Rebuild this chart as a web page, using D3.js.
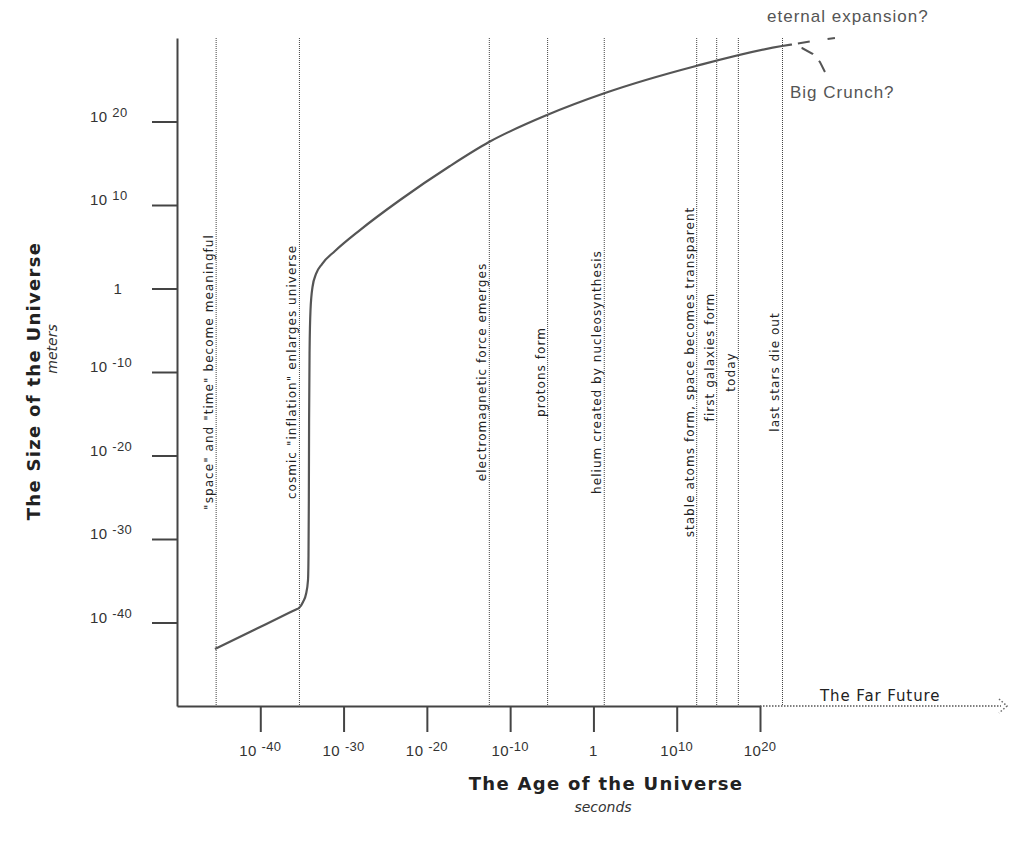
<!DOCTYPE html>
<html><head><meta charset="utf-8">
<script src="https://cdn.jsdelivr.net/npm/d3@7/dist/d3.min.js"></script>
<style>body{margin:0;background:#fff} svg{display:block}</style>
</head><body><svg id="c" width="1010" height="843"></svg>
<script>
// ---- data (powers of ten) ----
const xTickExps = [-40, -30, -20, -10, 0, 10, 20];
const xTickBase = ['10 ', '10 ', '10 ', '10', '1', '10', '10'];
const xTickSup  = ['-40', '-30', '-20', '-10', '', '10', '20'];
const yTickExps = [-40, -30, -20, -10, 0, 10, 20];
const yTickBase = ['10 ', '10 ', '10 ', '10 ', '1', '10 ', '10 '];
const yTickSup  = ['-40', '-30', '-20', '-10', '', '10', '20'];
const eventNames = [
  '"space" and "time" become meaningful',
  'cosmic "inflation" enlarges universe',
  'electromagnetic force emerges',
  'protons form',
  'helium created by nucleosynthesis',
  'stable atoms form, space becomes transparent',
  'first galaxies form',
  'today',
  'last stars die out'
];
const eventAgeExps = [-45.3, -35.3, -12.5, -5.5, 1.3, 12.4, 14.8, 17.4, 22.7];
// size-of-universe curve: age exponent (s), size exponent (m)
const ageExps  = [-45.44, -40.4, -36.6, -35.7, -35.35, -34.87, -34.51, -34.27, -34.21, -34.17, -34.14, -34.08, -33.97, -33.73, -33.31, -32.59, -31.03, -28.03, -23.22, -17.22, -12.54, -5.57, 1.39, 12.32, 22.64, 23.84];
const sizeExps = [-43.17, -40.72, -38.87, -38.43, -38.26, -37.54, -36.59, -34.91, -31.92, -25.33, -15.75, -7.37, -2.58, 0.18, 1.74, 2.93, 4.49, 7.0, 10.6, 14.67, 17.54, 20.78, 23.41, 26.65, 29.04, 29.22];
const expansionAgeExps  = [23.84, 26.36, 29.0];
const expansionSizeExps = [29.22, 29.64, 30.0];
const crunchAgeExps  = [23.84, 25.04, 26.36, 27.2, 27.8];
const crunchSizeExps = [29.16, 28.8, 28.08, 27.13, 25.93];

const svg = d3.select('#c');
const x = d3.scaleLog().domain([1e-50, 1e20]).range([177, 760]);
const y = d3.scaleLog().domain([1e-50, 1e30]).range([706, 38]);
const X = e => x(Math.pow(10, e));
const Y = e => y(Math.pow(10, e));
const axisColor = '#444';

// event lines
const ev = svg.append('g');
eventAgeExps.forEach((e, i) => {
  const px = X(e);
  ev.append('line').attr('x1', px).attr('x2', px).attr('y1', 38).attr('y2', 706)
    .attr('stroke', '#444').attr('stroke-width', 1).attr('stroke-dasharray', '1,1');
  const cy = i === 6 ? 357 : 372;
  ev.append('text').attr('transform', `translate(${px - 3},${cy}) rotate(-90)`)
    .attr('text-anchor', 'middle')
    .attr('font-family', 'DejaVu Sans').attr('font-size', 12).attr('letter-spacing', 1.05)
    .attr('fill', '#222').text(eventNames[i]);
});

// axes
const xAxis = svg.append('g').attr('transform', 'translate(0,706)')
  .call(d3.axisBottom(x).tickValues(xTickExps.map(e => Math.pow(10, e))).tickSize(26).tickSizeOuter(0).tickFormat(''));
const yAxis = svg.append('g').attr('transform', 'translate(177,0)')
  .call(d3.axisLeft(y).tickValues(yTickExps.map(e => Math.pow(10, e))).tickSize(25).tickSizeOuter(0).tickFormat(''));
[xAxis, yAxis].forEach(g => {
  g.select('.domain').attr('stroke', axisColor).attr('stroke-width', 2);
  g.selectAll('.tick line').attr('stroke', axisColor).attr('stroke-width', 2);
});

// far future dotted extension
svg.append('line').attr('x1', x(1e20)).attr('x2', 1001).attr('y1', 706).attr('y2', 706)
  .attr('stroke', '#555').attr('stroke-width', 1.5).attr('stroke-dasharray', '1.5,1.5');
svg.append('path').attr('d', 'M999,699 L1007,706 L999,713').attr('fill', 'none')
  .attr('stroke', '#666').attr('stroke-width', 1.5).attr('stroke-dasharray', '1.5,2');
svg.append('text').attr('x', 820).attr('y', 701).attr('font-family', 'DejaVu Sans')
  .attr('font-size', 15).attr('letter-spacing', 0.9).attr('fill', '#222').text('The Far Future');

// tick labels
const tickFont = 'Liberation Sans';
xTickExps.forEach((e, i) => {
  const t = svg.append('text').attr('x', X(e)).attr('y', 756).attr('text-anchor', 'middle')
    .attr('font-family', tickFont).attr('font-size', 15).attr('fill', '#333');
  t.append('tspan').attr('letter-spacing', 0.5).text(xTickBase[i]);
  if (xTickSup[i]) t.append('tspan').attr('dy', -5).attr('font-size', 13).attr('letter-spacing', 0.3).text(xTickSup[i]);
});
yTickExps.forEach((e, i) => {
  const isOne = !yTickSup[i];
  const t = svg.append('text').attr('x', isOne ? 118 : 90).attr('y', Y(e) + (isOne ? 5 : 0))
    .attr('text-anchor', isOne ? 'middle' : 'start')
    .attr('font-family', tickFont).attr('font-size', 15).attr('fill', '#333');
  t.append('tspan').attr('letter-spacing', 0.5).text(yTickBase[i]);
  if (yTickSup[i]) t.append('tspan').attr('dy', -5).attr('font-size', 13).attr('letter-spacing', 0.3).text(yTickSup[i]);
});

// curve
const line = d3.line().x(d => X(d[0])).y(d => Y(d[1])).curve(d3.curveMonotoneX);
svg.append('path').datum(ageExps.map((a, i) => [a, sizeExps[i]])).attr('d', line)
  .attr('fill', 'none').attr('stroke', '#555').attr('stroke-width', 2.2);
const dashLine = d3.line().x(d => X(d[0])).y(d => Y(d[1]));
svg.append('path').datum(expansionAgeExps.map((a, i) => [a, expansionSizeExps[i]])).attr('d', dashLine)
  .attr('fill', 'none').attr('stroke', '#555').attr('stroke-width', 2).attr('stroke-dasharray', '0,6,12,12');
svg.append('path').datum(crunchAgeExps.map((a, i) => [a, crunchSizeExps[i]])).attr('d', dashLine)
  .attr('fill', 'none').attr('stroke', '#555').attr('stroke-width', 2).attr('stroke-dasharray', '0,10,13,9,13');

svg.append('text').attr('x', 767).attr('y', 22).attr('font-family', 'Liberation Sans')
  .attr('font-size', 17).attr('letter-spacing', 1).attr('fill', '#555').text('eternal expansion?');
svg.append('text').attr('x', 790).attr('y', 98).attr('font-family', 'Liberation Sans')
  .attr('font-size', 17).attr('letter-spacing', 1).attr('fill', '#555').text('Big Crunch?');

// axis titles
svg.append('text').attr('transform', 'translate(40,381) rotate(-90)').attr('text-anchor', 'middle')
  .attr('font-family', 'DejaVu Sans').attr('font-weight', 'bold').attr('font-size', 18)
  .attr('letter-spacing', 1.3).attr('fill', '#222').text('The Size of the Universe');
svg.append('text').attr('transform', 'translate(57,349) rotate(-90)').attr('text-anchor', 'middle')
  .attr('font-family', 'DejaVu Sans').attr('font-style', 'italic').attr('font-size', 14)
  .attr('fill', '#333').text('meters');
svg.append('text').attr('x', 606).attr('y', 790).attr('text-anchor', 'middle')
  .attr('font-family', 'DejaVu Sans').attr('font-weight', 'bold').attr('font-size', 18)
  .attr('letter-spacing', 1.3).attr('fill', '#222').text('The Age of the Universe');
svg.append('text').attr('x', 603).attr('y', 812).attr('text-anchor', 'middle')
  .attr('font-family', 'DejaVu Sans').attr('font-style', 'italic').attr('font-size', 14)
  .attr('fill', '#333').text('seconds');
</script></body></html>
